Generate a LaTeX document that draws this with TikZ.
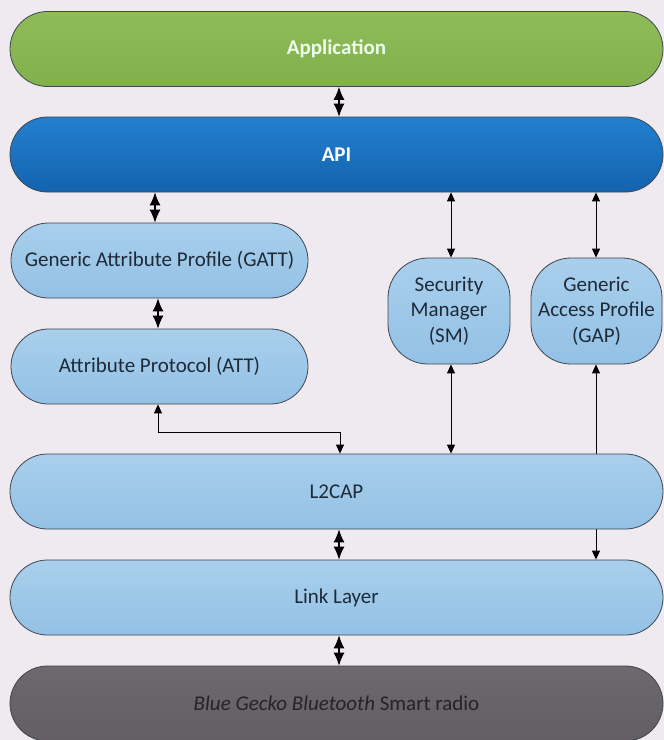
\documentclass[tikz,border=0pt]{standalone}
\usepackage{fontspec}
\setmainfont{Carlito}
\usetikzlibrary{shapes.misc,arrows.meta,backgrounds}

\definecolor{pagebg}{HTML}{EEEAEF}
\definecolor{edge}{HTML}{3E4650}
\definecolor{labelink}{HTML}{1E2A38}
\definecolor{radioink}{HTML}{25232A}
\definecolor{lbtop}{HTML}{A9CFEC}
\definecolor{lbbot}{HTML}{93C1E5}
\definecolor{apptop}{HTML}{8FBC58}
\definecolor{appbot}{HTML}{82B04C}
\definecolor{apitop}{HTML}{2280CF}
\definecolor{apibot}{HTML}{1463AE}
\definecolor{radtop}{HTML}{6C686E}
\definecolor{radbot}{HTML}{625E64}

\tikzset{
  layer/.style={rounded rectangle, draw=edge, line width=0.8pt,
    minimum width=653pt, minimum height=75pt, inner sep=0pt,
    font=\fontsize{21}{25.5}\selectfont, text=labelink},
  lightbox/.style={top color=lbtop, bottom color=lbbot},
  sidebox/.style={rectangle, rounded corners=40pt, draw=edge, line width=0.8pt,
    lightbox, align=center, inner sep=0pt,
    font=\fontsize{21}{25.5}\selectfont, text=labelink},
  thin link/.style={line width=0.9pt, black,
    {Triangle[length=9pt,width=8pt]}-{Triangle[length=9pt,width=8pt]}},
  fat link/.style={line width=1.2pt, black,
    {Latex[length=13pt,width=11pt]}-{Latex[length=13pt,width=11pt]}},
}

\begin{document}
\begin{tikzpicture}[x=1pt,y=-1pt]
  \begin{scope}[on background layer]
    \fill[pagebg] (0,0) rectangle (664,740);
  \end{scope}
  \useasboundingbox (0,0) rectangle (664,740);
  \clip (0,0) rectangle (664,740);

  % protocol layers
  \node[layer, top color=apptop, bottom color=appbot, text=white!92!green,
        font=\fontsize{21}{25.5}\selectfont\bfseries]
    (app) at (336.5,49) {Application};
  \node[layer, top color=apitop, bottom color=apibot, text=white,
        font=\fontsize{21}{25.5}\selectfont\bfseries]
    (api) at (336.5,154.5) {API};
  \node[layer, lightbox, minimum width=297pt] (gatt) at (159.5,260.5) {Generic Attribute Profile (GATT)};
  \node[layer, lightbox, minimum width=297pt] (att) at (159.5,366.5) {Attribute Protocol (ATT)};
  \node[sidebox, minimum width=122pt, minimum height=106pt] (sm) at (449,311) {Security\\Manager\\(SM)};
  \node[sidebox, minimum width=131pt, minimum height=106pt] (gap) at (596.5,311) {Generic\\Access Profile\\(GAP)};
  \node[layer, lightbox] (l2cap) at (336.5,491.5) {L2CAP};
  \node[layer, lightbox] (ll) at (336.5,597.5) {Link Layer};
  \node[layer, top color=radtop, bottom color=radbot, text=radioink] (radio) at (336.5,703.5)
    {\textit{Blue Gecko Bluetooth} Smart radio};

  % x positions of the connectors
  \coordinate (xmid) at (339,0);
  \coordinate (xg) at (155,0);
  \coordinate (xa) at (158,0);
  \coordinate (xl) at (340,0);
  \coordinate (xsm) at (451,0);
  \coordinate (xgap) at (596,0);
  \coordinate (bend) at (0,432);

  % connectors
  \draw[fat link] (app.south -| xmid) -- (api.north -| xmid);
  \draw[fat link] (api.south -| xg) -- (gatt.north -| xg);
  \draw[fat link] (gatt.south -| xa) -- (att.north -| xa);
  \draw[thin link] (api.south -| xsm) -- (sm.north -| xsm);
  \draw[thin link] (api.south -| xgap) -- (gap.north -| xgap);
  \draw[thin link] (sm.south -| xsm) -- (l2cap.north -| xsm);
  \draw[thin link] (att.south -| xa) -- (bend -| xa) -- (bend -| xl) -- (l2cap.north -| xl);
  \draw[fat link] (l2cap.south -| xmid) -- (ll.north -| xmid);
  \draw[fat link] (ll.south -| xmid) -- (radio.north -| xmid);
  % this one runs behind the L2CAP layer
  \begin{scope}[on background layer]
    \draw[thin link] (gap.south -| xgap) -- (ll.north -| xgap);
  \end{scope}
\end{tikzpicture}
\end{document}
